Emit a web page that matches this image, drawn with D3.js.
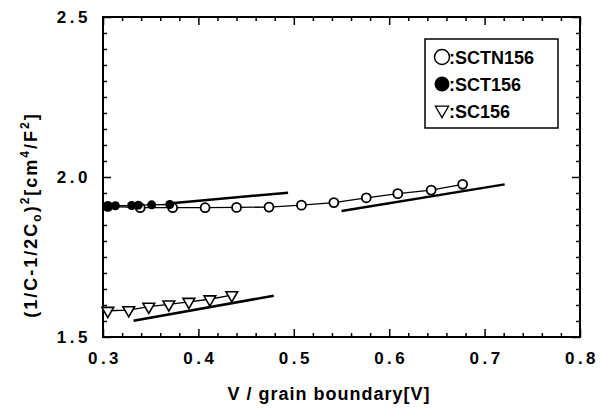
<!DOCTYPE html>
<html>
<head>
<meta charset="utf-8">
<script src="https://cdn.jsdelivr.net/npm/d3@7"></script>
<style>
body { margin: 0; background: #fff; }
svg { display: block; }
.tick-label { font-family: "Liberation Sans", Arial, sans-serif; font-weight: bold; font-size: 17px; letter-spacing: 3.5px; }
.title { font-family: "Liberation Sans", Arial, sans-serif; font-weight: bold; font-size: 18px; }
</style>
</head>
<body>
<div id="chart"></div>
<script>
// SCTN156 (open circles)
var sctnX = [0.305, 0.339, 0.373, 0.407, 0.440, 0.474, 0.508, 0.542, 0.576, 0.609, 0.644, 0.677];
var sctnY = [1.908, 1.904, 1.904, 1.904, 1.905, 1.906, 1.912, 1.920, 1.935, 1.948, 1.959, 1.977];
// SCT156 (filled circles)
var sctX = [0.305, 0.313, 0.330, 0.337, 0.351, 0.370];
var sctY = [1.909, 1.910, 1.911, 1.912, 1.913, 1.914];
// SC156 (open triangles)
var scX = [0.305, 0.327, 0.348, 0.369, 0.390, 0.412, 0.435];
var scY = [1.582, 1.584, 1.595, 1.602, 1.610, 1.618, 1.631];
// fitted straight lines [x1, y1, x2, y2]
var fitLines = [
  [0.372, 1.918, 0.494, 1.951],
  [0.550, 1.894, 0.721, 1.977],
  [0.332, 1.551, 0.479, 1.629]
];
var xTicks = [0.3, 0.4, 0.5, 0.6, 0.7, 0.8];
var yTicks = [1.5, 2.0, 2.5];
var legendNames = ["SCTN156", "SCT156", "SC156"];

var width = 600, height = 411;
var plotL = 103, plotR = 580, plotT = 17, plotB = 337;

var svg = d3.select("#chart").append("svg")
  .attr("width", width)
  .attr("height", height);

var x = d3.scaleLinear().domain([0.3, 0.8]).range([plotL, plotR]);
var y = d3.scaleLinear().domain([1.5, 2.5]).range([plotB, plotT]);

var xMinor = d3.range(0.32, 0.8, 0.02).filter(function(d) { return Math.abs(d * 10 - Math.round(d * 10)) > 0.01; });
var yMinor = d3.range(1.55, 2.5, 0.05).filter(function(d) { return Math.abs(d * 2 - Math.round(d * 2)) > 0.01; });

function tickAxis(axis, vals, size) {
  return axis.tickValues(vals).tickSizeInner(size).tickSizeOuter(0).tickFormat("");
}

// inward ticks on all four sides
var sides = [
  [d3.axisBottom, x, xTicks, xMinor, "translate(0," + plotB + ")"],
  [d3.axisTop, x, xTicks, xMinor, "translate(0," + plotT + ")"],
  [d3.axisLeft, y, yTicks, yMinor, "translate(" + plotL + ",0)"],
  [d3.axisRight, y, yTicks, yMinor, "translate(" + plotR + ",0)"]
];
sides.forEach(function(s) {
  svg.append("g").attr("transform", s[4]).call(tickAxis(s[0](s[1]), s[2], -8));
  svg.append("g").attr("transform", s[4]).call(tickAxis(s[0](s[1]), s[3], -4));
});
svg.selectAll(".domain").remove();
svg.selectAll(".tick line").attr("stroke", "#000").attr("stroke-width", 1.5);

// frame
svg.append("rect")
  .attr("x", plotL).attr("y", plotT)
  .attr("width", plotR - plotL).attr("height", plotB - plotT)
  .attr("fill", "none").attr("stroke", "#000").attr("stroke-width", 2);

// tick labels
svg.selectAll(".xl").data(xTicks).enter().append("text")
  .attr("class", "tick-label")
  .attr("x", function(d) { return x(d) + 2; })
  .attr("y", plotB + 27)
  .attr("text-anchor", "middle")
  .text(function(d) { return d.toFixed(1); });
svg.selectAll(".yl").data(yTicks).enter().append("text")
  .attr("class", "tick-label")
  .attr("x", plotL - 12)
  .attr("y", function(d) { return y(d) + 6; })
  .attr("text-anchor", "end")
  .text(function(d) { return d.toFixed(1); });

// axis titles
svg.append("text")
  .attr("class", "title")
  .attr("x", 329).attr("y", 400)
  .attr("text-anchor", "middle")
  .attr("letter-spacing", "1px")
  .text("V / grain boundary[V]");

var yt = svg.append("text")
  .attr("class", "title")
  .attr("text-anchor", "middle")
  .attr("letter-spacing", "2px")
  .attr("transform", "translate(37,215) rotate(-90)");
yt.append("tspan").text("(1/C-1/2C");
yt.append("tspan").attr("font-size", "12px").attr("dy", 4).text("o");
yt.append("tspan").attr("dy", -4).text(")");
yt.append("tspan").attr("font-size", "12px").attr("dy", -8).text("2");
yt.append("tspan").attr("dy", 8).text("[cm");
yt.append("tspan").attr("font-size", "12px").attr("dy", -8).text("4");
yt.append("tspan").attr("dy", 8).text("/F");
yt.append("tspan").attr("font-size", "12px").attr("dy", -8).text("2");
yt.append("tspan").attr("dy", 8).text("]");

// fitted lines
svg.selectAll(".fit").data(fitLines).enter().append("line")
  .attr("x1", function(d) { return x(d[0]); })
  .attr("y1", function(d) { return y(d[1]); })
  .attr("x2", function(d) { return x(d[2]); })
  .attr("y2", function(d) { return y(d[3]); })
  .attr("stroke", "#000").attr("stroke-width", 2.5);

function seriesLine(xs, ys) {
  var pts = xs.map(function(d, i) { return [d, ys[i]]; });
  svg.append("path")
    .datum(pts)
    .attr("fill", "none").attr("stroke", "#000").attr("stroke-width", 1.3)
    .attr("d", d3.line().x(function(d) { return x(d[0]); }).y(function(d) { return y(d[1]); }));
  return pts;
}

var sctnPts = seriesLine(sctnX, sctnY);
var sctPts = seriesLine(sctX, sctY);
var scPts = seriesLine(scX, scY);

svg.selectAll(".sctn").data(sctnPts).enter().append("circle")
  .attr("cx", function(d) { return x(d[0]); })
  .attr("cy", function(d) { return y(d[1]); })
  .attr("r", 4.5)
  .attr("fill", "#fff").attr("stroke", "#000").attr("stroke-width", 1.8);

svg.selectAll(".sct").data(sctPts).enter().append("circle")
  .attr("cx", function(d) { return x(d[0]); })
  .attr("cy", function(d) { return y(d[1]); })
  .attr("r", 4.5)
  .attr("fill", "#000");

var tri = d3.symbol().type(d3.symbolTriangle).size(60);
svg.selectAll(".sc").data(scPts).enter().append("path")
  .attr("d", tri)
  .attr("transform", function(d) { return "translate(" + x(d[0]) + "," + y(d[1]) + ") rotate(180)"; })
  .attr("fill", "#fff").attr("stroke", "#000").attr("stroke-width", 1.6);

// legend
var lg = svg.append("g");
lg.append("rect")
  .attr("x", 425).attr("y", 39).attr("width", 133).attr("height", 89)
  .attr("fill", "#fff").attr("stroke", "#000").attr("stroke-width", 1.5);
var rows = [57, 84, 111];
lg.append("circle").attr("cx", 442).attr("cy", rows[0]).attr("r", 7.5)
  .attr("fill", "#fff").attr("stroke", "#000").attr("stroke-width", 1.5);
lg.append("circle").attr("cx", 442).attr("cy", rows[1]).attr("r", 7.5).attr("fill", "#000");
lg.append("path").attr("d", d3.symbol().type(d3.symbolTriangle).size(75))
  .attr("transform", "translate(442," + (rows[2] - 1) + ") rotate(180)")
  .attr("fill", "#fff").attr("stroke", "#000").attr("stroke-width", 1.3);
lg.selectAll(".lt").data(legendNames).enter().append("text")
  .attr("class", "title")
  .attr("x", 449)
  .attr("y", function(d, i) { return rows[i] + 7; })
  .attr("font-size", "20px")
  .text(function(d) { return ":" + d; });
</script>
</body>
</html>
